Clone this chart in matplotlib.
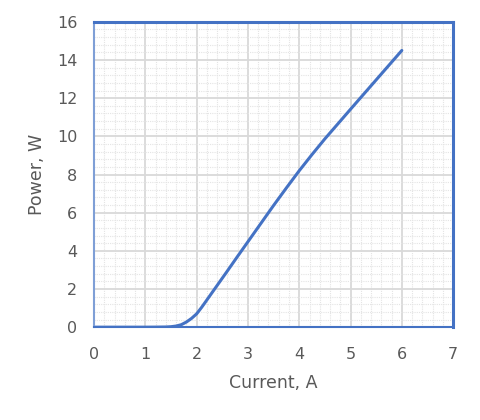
import matplotlib.pyplot as plt
from matplotlib.ticker import MultipleLocator

# Данные кривой мощности
current = [0, 0.5, 1.0, 1.2, 1.4, 1.5, 1.6, 1.7, 1.8, 1.9, 2.0, 2.1, 2.2, 2.3,
           2.4, 2.6, 2.8, 3.0, 3.5, 3.75, 4.0, 4.25, 4.5, 5.0, 5.5, 6.0]
power = [0, 0, 0, 0.003, 0.01, 0.025, 0.06, 0.13, 0.27, 0.46, 0.7, 1.05, 1.43,
         1.81, 2.19, 2.95, 3.72, 4.48, 6.38, 7.3, 8.2, 9.05, 9.87, 11.42, 12.96, 14.5]

fig = plt.figure(figsize=(4.8, 4.2), dpi=100)
ax = fig.add_axes([0.196, 0.221, 0.748, 0.727])

ax.plot(current, power, color='#4472C4', linewidth=2.2,
        solid_capstyle='round', solid_joinstyle='round')

ax.set_xlim(0, 7)
ax.set_ylim(0, 16)
ax.xaxis.set_major_locator(MultipleLocator(1))
ax.yaxis.set_major_locator(MultipleLocator(2))
ax.xaxis.set_minor_locator(MultipleLocator(0.2))
ax.yaxis.set_minor_locator(MultipleLocator(0.4))

ax.grid(which='major', color='#D9D9D9', linewidth=1.3)
ax.grid(which='minor', color='#E4E4E4', linewidth=0.8, linestyle=(0, (1, 1)))
ax.set_axisbelow(True)

ax.tick_params(which='both', length=0, labelsize=11.5, labelcolor='#595959')
ax.tick_params(axis='x', pad=14)
ax.tick_params(axis='y', pad=12)

for side in ['top', 'right']:
    ax.spines[side].set_color('#4472C4')
    ax.spines[side].set_linewidth(2.2)
ax.spines['left'].set_color('#7F9FD6')
ax.spines['left'].set_linewidth(1.5)
ax.spines['bottom'].set_color('#4472C4')
ax.spines['bottom'].set_linewidth(1.5)

ax.set_xlabel('Current, A', fontsize=12.5, color='#595959', labelpad=9)
ax.set_ylabel('Power, W', fontsize=12.5, color='#595959', labelpad=8)

fig.savefig('out.png', dpi=100)
